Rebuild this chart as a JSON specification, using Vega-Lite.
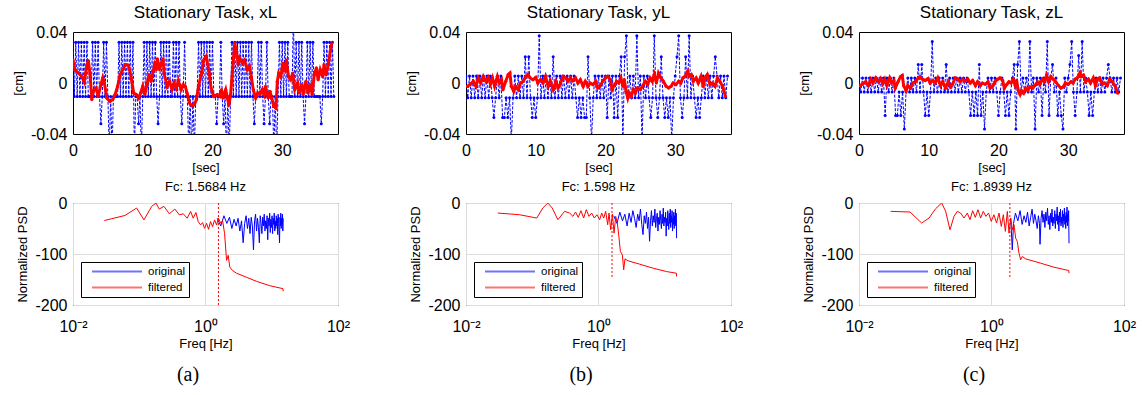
{
"$schema":"https://vega.github.io/schema/vega-lite/v6.json",
"padding":{"left":12,"top":3,"right":5,"bottom":3},
"config":{
 "font":"Liberation Sans",
 "view":{"stroke":"#000000","strokeWidth":1},
 "axis":{"domain":false,"grid":false,"ticks":false,"labelFont":"Liberation Sans","labelFontSize":16,"labelColor":"#000000","titleFont":"Liberation Sans","titleFontSize":13,"titleFontWeight":"normal","titleColor":"#000000","labelPadding":6,"labelFlush":false,"labelOverlap":false,"titlePadding":5},
 "title":{"font":"Liberation Sans","fontSize":17,"fontWeight":"normal","color":"#000000","offset":2},
 "legend":{"orient":"bottom-left","offset":8,"strokeColor":"#000000","fillColor":"#ffffff","padding":3,"symbolOffset":7,"symbolType":"stroke","symbolSize":2500,"clipHeight":13,"symbolStrokeWidth":2,"symbolOpacity":0.55,"labelFont":"Liberation Sans","labelFontSize":11.5,"labelColor":"#000000","labelOffset":5,"rowPadding":3}
},
"datasets":{
"bx":[{"t":0,"v":0.032},{"t":0.2,"v":-0.0105},{"t":0.4,"v":0.032},{"t":0.6,"v":-0.0105},{"t":0.8,"v":0.032},{"t":1.0,"v":-0.0105},{"t":1.2,"v":0.032},{"t":1.4,"v":-0.0105},{"t":1.6,"v":0.032},{"t":1.8,"v":-0.0105},{"t":2.0,"v":0.032},{"t":2.2,"v":-0.0105},{"t":2.4,"v":-0.0105},{"t":2.6,"v":-0.0105},{"t":2.8,"v":0.032},{"t":3.0,"v":-0.0105},{"t":3.2,"v":0.032},{"t":3.4,"v":-0.0105},{"t":3.6,"v":0.032},{"t":3.8,"v":-0.0105},{"t":4.0,"v":-0.032},{"t":4.2,"v":-0.0105},{"t":4.4,"v":0.032},{"t":4.6,"v":-0.0105},{"t":4.8,"v":0.032},{"t":5.0,"v":-0.0105},{"t":5.2,"v":-0.054},{"t":5.4,"v":-0.0105},{"t":5.6,"v":-0.054},{"t":5.8,"v":-0.0105},{"t":6.0,"v":-0.0105},{"t":6.2,"v":-0.0105},{"t":6.4,"v":-0.0105},{"t":6.6,"v":0.032},{"t":6.8,"v":-0.0105},{"t":7.0,"v":0.032},{"t":7.2,"v":-0.0105},{"t":7.4,"v":0.032},{"t":7.6,"v":-0.0105},{"t":7.8,"v":0.032},{"t":8.0,"v":-0.0105},{"t":8.2,"v":0.032},{"t":8.4,"v":-0.0105},{"t":8.6,"v":0.032},{"t":8.8,"v":-0.054},{"t":9.0,"v":-0.0105},{"t":9.2,"v":-0.0105},{"t":9.4,"v":-0.032},{"t":9.6,"v":-0.0105},{"t":9.8,"v":-0.054},{"t":10.0,"v":-0.0105},{"t":10.2,"v":0.032},{"t":10.4,"v":-0.0105},{"t":10.6,"v":0.032},{"t":10.8,"v":-0.0105},{"t":11.0,"v":0.032},{"t":11.2,"v":-0.0105},{"t":11.4,"v":0.032},{"t":11.6,"v":-0.0105},{"t":11.8,"v":0.032},{"t":12.0,"v":-0.0105},{"t":12.2,"v":-0.032},{"t":12.4,"v":-0.0105},{"t":12.6,"v":0.032},{"t":12.8,"v":-0.0105},{"t":13.0,"v":0.032},{"t":13.2,"v":-0.0105},{"t":13.4,"v":0.032},{"t":13.6,"v":-0.0105},{"t":13.8,"v":0.032},{"t":14.0,"v":-0.0105},{"t":14.2,"v":-0.0105},{"t":14.4,"v":0.032},{"t":14.6,"v":-0.0105},{"t":14.8,"v":0.032},{"t":15.0,"v":-0.0105},{"t":15.2,"v":0.032},{"t":15.4,"v":-0.0105},{"t":15.6,"v":-0.032},{"t":15.8,"v":-0.0105},{"t":16.0,"v":0.032},{"t":16.2,"v":-0.0105},{"t":16.4,"v":-0.0105},{"t":16.6,"v":-0.054},{"t":16.8,"v":-0.0105},{"t":17.0,"v":-0.054},{"t":17.2,"v":-0.0105},{"t":17.4,"v":-0.054},{"t":17.6,"v":-0.0105},{"t":17.8,"v":-0.0105},{"t":18.0,"v":0.032},{"t":18.2,"v":-0.0105},{"t":18.4,"v":0.032},{"t":18.6,"v":-0.0105},{"t":18.8,"v":0.032},{"t":19.0,"v":-0.0105},{"t":19.2,"v":0.032},{"t":19.4,"v":-0.0105},{"t":19.6,"v":0.032},{"t":19.8,"v":-0.0105},{"t":20.0,"v":0.032},{"t":20.2,"v":-0.0105},{"t":20.4,"v":-0.0105},{"t":20.6,"v":-0.032},{"t":20.8,"v":-0.0105},{"t":21.0,"v":-0.0105},{"t":21.2,"v":0.032},{"t":21.4,"v":-0.0105},{"t":21.6,"v":-0.032},{"t":21.8,"v":-0.0105},{"t":22.0,"v":-0.054},{"t":22.2,"v":-0.0105},{"t":22.4,"v":-0.054},{"t":22.6,"v":-0.0105},{"t":22.8,"v":0.032},{"t":23.0,"v":-0.0105},{"t":23.2,"v":0.032},{"t":23.4,"v":-0.0105},{"t":23.6,"v":0.032},{"t":23.8,"v":-0.0105},{"t":24.0,"v":0.032},{"t":24.2,"v":-0.0105},{"t":24.4,"v":0.032},{"t":24.6,"v":-0.0105},{"t":24.8,"v":0.032},{"t":25.0,"v":-0.0105},{"t":25.2,"v":0.032},{"t":25.4,"v":-0.0105},{"t":25.6,"v":0.032},{"t":25.8,"v":-0.0105},{"t":26.0,"v":-0.032},{"t":26.2,"v":-0.0105},{"t":26.4,"v":-0.0105},{"t":26.6,"v":0.032},{"t":26.8,"v":-0.0105},{"t":27.0,"v":0.032},{"t":27.2,"v":-0.0105},{"t":27.4,"v":-0.032},{"t":27.6,"v":-0.0105},{"t":27.8,"v":0.032},{"t":28.0,"v":-0.0105},{"t":28.2,"v":-0.032},{"t":28.4,"v":-0.0105},{"t":28.6,"v":-0.0105},{"t":28.8,"v":-0.054},{"t":29.0,"v":-0.0105},{"t":29.2,"v":-0.054},{"t":29.4,"v":-0.0105},{"t":29.6,"v":0.032},{"t":29.8,"v":-0.0105},{"t":30.0,"v":0.032},{"t":30.2,"v":-0.0105},{"t":30.4,"v":0.032},{"t":30.6,"v":-0.0105},{"t":30.8,"v":0.032},{"t":31.0,"v":-0.0105},{"t":31.2,"v":-0.0105},{"t":31.4,"v":-0.0105},{"t":31.6,"v":0.054},{"t":31.8,"v":-0.0105},{"t":32.0,"v":0.032},{"t":32.2,"v":-0.0105},{"t":32.4,"v":0.032},{"t":32.6,"v":-0.0105},{"t":32.8,"v":0.032},{"t":33.0,"v":-0.0105},{"t":33.2,"v":-0.032},{"t":33.4,"v":-0.0105},{"t":33.6,"v":0.032},{"t":33.8,"v":-0.0105},{"t":34.0,"v":0.032},{"t":34.2,"v":-0.0105},{"t":34.4,"v":0.032},{"t":34.6,"v":-0.0105},{"t":34.8,"v":-0.0105},{"t":35.0,"v":-0.0105},{"t":35.2,"v":-0.0105},{"t":35.4,"v":-0.0105},{"t":35.6,"v":-0.032},{"t":35.8,"v":-0.0105},{"t":36.0,"v":0.032},{"t":36.2,"v":-0.0105},{"t":36.4,"v":0.032},{"t":36.6,"v":-0.0105},{"t":36.8,"v":0.032},{"t":37.0,"v":-0.0105},{"t":37.2,"v":0.032},{"t":37.4,"v":-0.0105}],
"rx":[{"t":0,"v":0.018},{"t":0.29,"v":0.01},{"t":0.77,"v":0.008},{"t":1.25,"v":0.005},{"t":1.6,"v":0.001},{"t":2.0,"v":0.014},{"t":2.2,"v":0.0175},{"t":2.45,"v":0.0066},{"t":2.7,"v":-0.013},{"t":2.9,"v":-0.0065},{"t":3.3,"v":-0.004},{"t":3.6,"v":-0.0105},{"t":4.0,"v":-0.0013},{"t":4.27,"v":0.004},{"t":4.5,"v":0.0},{"t":4.85,"v":-0.0118},{"t":5.3,"v":-0.0144},{"t":5.7,"v":-0.013},{"t":6.04,"v":-0.009},{"t":6.4,"v":-0.0026},{"t":6.76,"v":0.0066},{"t":7.15,"v":0.0105},{"t":7.5,"v":0.0144},{"t":7.96,"v":0.0138},{"t":8.35,"v":0.004},{"t":8.7,"v":-0.0078},{"t":9.07,"v":-0.009},{"t":9.4,"v":-0.0118},{"t":9.7,"v":-0.0078},{"t":10.0,"v":-0.0026},{"t":10.3,"v":-0.009},{"t":10.6,"v":-0.0013},{"t":10.9,"v":0.0066},{"t":11.2,"v":0.0013},{"t":11.5,"v":0.0092},{"t":11.7,"v":0.0144},{"t":11.95,"v":0.0105},{"t":12.1,"v":0.019},{"t":12.4,"v":0.0105},{"t":12.6,"v":0.015},{"t":12.9,"v":0.019},{"t":13.1,"v":0.0066},{"t":13.5,"v":-0.0026},{"t":13.85,"v":0.0013},{"t":14.2,"v":-0.0052},{"t":14.5,"v":0.0},{"t":14.8,"v":-0.004},{"t":15.1,"v":0.0018},{"t":15.5,"v":-0.0052},{"t":15.8,"v":-0.0013},{"t":16.1,"v":-0.0026},{"t":16.35,"v":-0.0078},{"t":16.7,"v":-0.0157},{"t":17.1,"v":-0.018},{"t":17.4,"v":-0.017},{"t":17.7,"v":-0.013},{"t":18.0,"v":-0.0026},{"t":18.4,"v":0.0066},{"t":18.75,"v":0.018},{"t":19.1,"v":0.021},{"t":19.5,"v":0.0092},{"t":19.8,"v":-0.004},{"t":20.2,"v":-0.0105},{"t":20.7,"v":-0.009},{"t":21.05,"v":-0.0105},{"t":21.3,"v":-0.0052},{"t":21.5,"v":-0.0118},{"t":21.9,"v":-0.0052},{"t":22.1,"v":-0.0105},{"t":22.35,"v":-0.0175},{"t":22.6,"v":-0.009},{"t":22.9,"v":0.0118},{"t":23.2,"v":0.0314},{"t":23.45,"v":0.0236},{"t":23.7,"v":0.0144},{"t":23.9,"v":0.0196},{"t":24.3,"v":0.0157},{"t":24.6,"v":0.018},{"t":25.0,"v":0.0105},{"t":25.3,"v":0.013},{"t":25.6,"v":0.004},{"t":25.85,"v":-0.0052},{"t":26.2,"v":-0.0118},{"t":26.5,"v":-0.0078},{"t":26.8,"v":-0.009},{"t":27.15,"v":-0.0052},{"t":27.4,"v":-0.009},{"t":27.6,"v":-0.0026},{"t":28.0,"v":-0.0118},{"t":28.25,"v":-0.0065},{"t":28.5,"v":-0.0118},{"t":28.8,"v":-0.0183},{"t":29.1,"v":-0.0196},{"t":29.3,"v":0.0013},{"t":29.5,"v":0.0078},{"t":29.8,"v":0.005},{"t":30.1,"v":0.0157},{"t":30.4,"v":0.0092},{"t":30.6,"v":0.018},{"t":30.9,"v":0.005},{"t":31.2,"v":0.0026},{"t":31.5,"v":0.0078},{"t":31.8,"v":-0.0052},{"t":32.2,"v":0.0},{"t":32.4,"v":-0.0078},{"t":32.8,"v":-0.0013},{"t":33.0,"v":-0.009},{"t":33.4,"v":0.0013},{"t":33.7,"v":-0.0078},{"t":34.0,"v":-0.0013},{"t":34.3,"v":-0.009},{"t":34.6,"v":0.0066},{"t":34.9,"v":0.0118},{"t":35.15,"v":0.0026},{"t":35.45,"v":0.0105},{"t":35.8,"v":0.005},{"t":36.0,"v":0.0144},{"t":36.3,"v":0.0066},{"t":36.6,"v":0.0144},{"t":36.9,"v":0.025},{"t":37.1,"v":0.031}],
"by":[{"t":0,"v":0.0055},{"t":0.25,"v":-0.0115},{"t":0.5,"v":0.0055},{"t":0.75,"v":-0.0115},{"t":1.0,"v":0.0055},{"t":1.25,"v":-0.0115},{"t":1.5,"v":0.0055},{"t":1.75,"v":-0.0115},{"t":2.0,"v":0.0055},{"t":2.25,"v":-0.0115},{"t":2.5,"v":0.0055},{"t":2.75,"v":-0.0115},{"t":3.0,"v":0.0055},{"t":3.25,"v":-0.0115},{"t":3.5,"v":0.0055},{"t":3.75,"v":-0.0115},{"t":4.0,"v":-0.027},{"t":4.25,"v":-0.0115},{"t":4.5,"v":0.0055},{"t":4.75,"v":-0.0115},{"t":5.0,"v":0.0055},{"t":5.25,"v":-0.027},{"t":5.5,"v":-0.027},{"t":5.75,"v":-0.0115},{"t":6.0,"v":-0.027},{"t":6.25,"v":-0.0115},{"t":6.5,"v":-0.045},{"t":6.75,"v":-0.0115},{"t":7.0,"v":0.0055},{"t":7.25,"v":-0.0115},{"t":7.5,"v":0.0055},{"t":7.75,"v":-0.0115},{"t":8.0,"v":0.0055},{"t":8.25,"v":-0.0115},{"t":8.5,"v":0.0205},{"t":8.75,"v":-0.0115},{"t":9.0,"v":0.0205},{"t":9.25,"v":-0.0115},{"t":9.5,"v":-0.027},{"t":9.75,"v":-0.0115},{"t":10.0,"v":-0.027},{"t":10.25,"v":-0.0115},{"t":10.5,"v":0.037},{"t":10.75,"v":-0.0115},{"t":11.0,"v":0.0055},{"t":11.25,"v":-0.0115},{"t":11.5,"v":0.0055},{"t":11.75,"v":-0.0115},{"t":12.0,"v":0.0055},{"t":12.25,"v":-0.0115},{"t":12.5,"v":0.0205},{"t":12.75,"v":-0.0115},{"t":13.0,"v":0.0055},{"t":13.25,"v":-0.0115},{"t":13.5,"v":0.0055},{"t":13.75,"v":-0.0115},{"t":14.0,"v":0.0055},{"t":14.25,"v":-0.0115},{"t":14.5,"v":0.0055},{"t":14.75,"v":-0.0115},{"t":15.0,"v":0.0055},{"t":15.25,"v":-0.0115},{"t":15.5,"v":0.0055},{"t":15.75,"v":-0.0115},{"t":16.0,"v":-0.027},{"t":16.25,"v":-0.0115},{"t":16.5,"v":-0.027},{"t":16.75,"v":-0.0115},{"t":17.0,"v":-0.027},{"t":17.25,"v":-0.027},{"t":17.5,"v":0.0205},{"t":17.75,"v":-0.0115},{"t":18.0,"v":-0.045},{"t":18.25,"v":-0.0115},{"t":18.5,"v":0.0055},{"t":18.75,"v":-0.0115},{"t":19.0,"v":0.0055},{"t":19.25,"v":-0.0115},{"t":19.5,"v":0.0055},{"t":19.75,"v":-0.0115},{"t":20.0,"v":0.0055},{"t":20.25,"v":-0.027},{"t":20.5,"v":0.0055},{"t":20.75,"v":-0.0115},{"t":21.0,"v":0.0055},{"t":21.25,"v":-0.027},{"t":21.5,"v":0.0055},{"t":21.75,"v":-0.027},{"t":22.0,"v":0.0055},{"t":22.25,"v":0.0205},{"t":22.5,"v":-0.045},{"t":22.75,"v":0.0205},{"t":23.0,"v":0.037},{"t":23.25,"v":-0.0115},{"t":23.5,"v":0.0055},{"t":23.75,"v":-0.0115},{"t":24.0,"v":0.0055},{"t":24.25,"v":-0.0115},{"t":24.5,"v":0.037},{"t":24.75,"v":-0.0115},{"t":25.0,"v":0.0055},{"t":25.25,"v":-0.045},{"t":25.5,"v":0.0055},{"t":25.75,"v":-0.0115},{"t":26.0,"v":0.0055},{"t":26.25,"v":-0.0115},{"t":26.5,"v":-0.027},{"t":26.75,"v":-0.0115},{"t":27.0,"v":0.037},{"t":27.25,"v":-0.0115},{"t":27.5,"v":-0.027},{"t":27.75,"v":-0.0115},{"t":28.0,"v":0.0205},{"t":28.25,"v":-0.0115},{"t":28.5,"v":-0.027},{"t":28.75,"v":-0.0115},{"t":29.0,"v":-0.027},{"t":29.25,"v":-0.0115},{"t":29.5,"v":-0.045},{"t":29.75,"v":-0.0115},{"t":30.0,"v":0.0055},{"t":30.25,"v":0.0205},{"t":30.5,"v":0.037},{"t":30.75,"v":-0.0115},{"t":31.0,"v":-0.027},{"t":31.25,"v":-0.0115},{"t":31.5,"v":0.0205},{"t":31.75,"v":-0.0115},{"t":32.0,"v":0.037},{"t":32.25,"v":-0.0115},{"t":32.5,"v":0.0055},{"t":32.75,"v":-0.0115},{"t":33.0,"v":-0.027},{"t":33.25,"v":-0.0115},{"t":33.5,"v":-0.027},{"t":33.75,"v":-0.0115},{"t":34.0,"v":0.0055},{"t":34.25,"v":-0.0115},{"t":34.5,"v":0.0055},{"t":34.75,"v":-0.0115},{"t":35.0,"v":0.0055},{"t":35.25,"v":-0.0115},{"t":35.5,"v":0.0055},{"t":35.75,"v":0.0205},{"t":36.0,"v":0.0055},{"t":36.25,"v":-0.0115},{"t":36.5,"v":0.0055},{"t":36.75,"v":-0.0115},{"t":37.0,"v":0.0055},{"t":37.25,"v":-0.0115},{"t":37.5,"v":0.0055}],
"ry":[{"t":0.19,"v":-0.0026},{"t":0.57,"v":-0.0013},{"t":1.05,"v":0.0013},{"t":1.43,"v":-0.0026},{"t":1.76,"v":0.004},{"t":2.1,"v":0.0},{"t":2.48,"v":0.0052},{"t":2.86,"v":0.0013},{"t":3.2,"v":0.0044},{"t":3.5,"v":-0.0008},{"t":3.8,"v":0.004},{"t":4.1,"v":-0.0026},{"t":4.5,"v":0.0052},{"t":4.8,"v":0.0},{"t":5.1,"v":0.0026},{"t":5.3,"v":-0.0052},{"t":5.7,"v":0.0013},{"t":6.05,"v":0.0066},{"t":6.3,"v":0.0078},{"t":6.5,"v":-0.0026},{"t":6.85,"v":-0.0065},{"t":7.1,"v":-0.0026},{"t":7.5,"v":-0.0052},{"t":7.8,"v":0.0},{"t":8.2,"v":0.0013},{"t":8.6,"v":0.0052},{"t":8.9,"v":0.0066},{"t":9.2,"v":0.004},{"t":9.6,"v":0.0026},{"t":10.0,"v":0.0044},{"t":10.3,"v":0.0},{"t":10.7,"v":0.0026},{"t":11.05,"v":0.0},{"t":11.4,"v":0.0052},{"t":11.8,"v":-0.0026},{"t":12.1,"v":0.0013},{"t":12.5,"v":-0.0052},{"t":12.9,"v":0.0013},{"t":13.2,"v":-0.0039},{"t":13.5,"v":-0.0013},{"t":13.9,"v":0.0052},{"t":14.3,"v":0.004},{"t":14.6,"v":0.0013},{"t":14.95,"v":0.004},{"t":15.3,"v":0.0018},{"t":15.7,"v":0.004},{"t":16.05,"v":0.0},{"t":16.4,"v":0.0026},{"t":16.8,"v":-0.0026},{"t":17.1,"v":0.0013},{"t":17.5,"v":-0.0026},{"t":17.8,"v":0.0},{"t":18.2,"v":-0.0013},{"t":18.6,"v":0.0013},{"t":18.9,"v":-0.0039},{"t":19.2,"v":-0.0026},{"t":19.6,"v":0.0013},{"t":20.0,"v":0.004},{"t":20.3,"v":0.0052},{"t":20.7,"v":0.0026},{"t":20.95,"v":-0.0052},{"t":21.3,"v":-0.0013},{"t":21.6,"v":0.0013},{"t":21.9,"v":0.0},{"t":22.2,"v":0.004},{"t":22.5,"v":-0.0026},{"t":22.7,"v":0.0026},{"t":22.95,"v":-0.0065},{"t":23.2,"v":-0.0118},{"t":23.4,"v":-0.0078},{"t":23.7,"v":-0.0105},{"t":24.0,"v":-0.0052},{"t":24.3,"v":-0.0078},{"t":24.6,"v":-0.0039},{"t":25.0,"v":-0.0052},{"t":25.3,"v":-0.0026},{"t":25.7,"v":0.0013},{"t":26.05,"v":-0.0013},{"t":26.4,"v":0.004},{"t":26.7,"v":0.0013},{"t":27.0,"v":0.0066},{"t":27.3,"v":0.0},{"t":27.6,"v":0.0078},{"t":27.95,"v":0.004},{"t":28.3,"v":0.0013},{"t":28.7,"v":-0.0026},{"t":29.05,"v":-0.0039},{"t":29.4,"v":-0.0026},{"t":29.7,"v":0.0},{"t":30.1,"v":-0.0013},{"t":30.5,"v":0.0013},{"t":30.8,"v":0.0},{"t":31.1,"v":0.004},{"t":31.4,"v":0.0052},{"t":31.8,"v":0.0092},{"t":32.0,"v":0.0052},{"t":32.3,"v":0.0066},{"t":32.6,"v":0.0013},{"t":33.0,"v":0.004},{"t":33.3,"v":0.0},{"t":33.7,"v":0.0052},{"t":34.0,"v":-0.0026},{"t":34.3,"v":0.004},{"t":34.6,"v":0.0066},{"t":35.0,"v":-0.0013},{"t":35.3,"v":0.0},{"t":35.7,"v":-0.0026},{"t":36.05,"v":0.004},{"t":36.4,"v":0.0013},{"t":36.8,"v":-0.0026},{"t":37.2,"v":-0.0105}],
"bz":[{"t":0,"v":0.004},{"t":0.25,"v":-0.007},{"t":0.5,"v":0.004},{"t":0.75,"v":-0.007},{"t":1.0,"v":0.004},{"t":1.25,"v":-0.007},{"t":1.5,"v":0.004},{"t":1.75,"v":-0.007},{"t":2.0,"v":0.004},{"t":2.25,"v":-0.007},{"t":2.5,"v":0.004},{"t":2.75,"v":-0.007},{"t":3.0,"v":0.004},{"t":3.25,"v":-0.007},{"t":3.5,"v":0.004},{"t":3.75,"v":-0.0255},{"t":4.0,"v":0.004},{"t":4.25,"v":-0.007},{"t":4.5,"v":0.004},{"t":4.75,"v":-0.007},{"t":5.0,"v":0.004},{"t":5.25,"v":-0.0255},{"t":5.5,"v":-0.0255},{"t":5.75,"v":-0.007},{"t":6.0,"v":-0.0255},{"t":6.25,"v":-0.007},{"t":6.5,"v":-0.036},{"t":6.75,"v":-0.007},{"t":7.0,"v":0.004},{"t":7.25,"v":-0.007},{"t":7.5,"v":0.004},{"t":7.75,"v":-0.007},{"t":8.0,"v":0.004},{"t":8.25,"v":-0.007},{"t":8.5,"v":0.0145},{"t":8.75,"v":-0.007},{"t":9.0,"v":0.0145},{"t":9.25,"v":-0.007},{"t":9.5,"v":-0.0255},{"t":9.75,"v":-0.007},{"t":10.0,"v":-0.0255},{"t":10.25,"v":-0.007},{"t":10.5,"v":0.0325},{"t":10.75,"v":-0.007},{"t":11.0,"v":0.004},{"t":11.25,"v":-0.007},{"t":11.5,"v":0.004},{"t":11.75,"v":-0.007},{"t":12.0,"v":0.004},{"t":12.25,"v":-0.007},{"t":12.5,"v":0.0145},{"t":12.75,"v":-0.007},{"t":13.0,"v":0.004},{"t":13.25,"v":-0.007},{"t":13.5,"v":0.004},{"t":13.75,"v":-0.007},{"t":14.0,"v":0.004},{"t":14.25,"v":-0.007},{"t":14.5,"v":0.004},{"t":14.75,"v":-0.007},{"t":15.0,"v":0.004},{"t":15.25,"v":-0.007},{"t":15.5,"v":0.004},{"t":15.75,"v":-0.007},{"t":16.0,"v":-0.0255},{"t":16.25,"v":-0.007},{"t":16.5,"v":-0.0255},{"t":16.75,"v":-0.007},{"t":17.0,"v":-0.0255},{"t":17.25,"v":0.0145},{"t":17.5,"v":-0.0255},{"t":17.75,"v":-0.007},{"t":18.0,"v":-0.036},{"t":18.25,"v":-0.007},{"t":18.5,"v":0.004},{"t":18.75,"v":-0.007},{"t":19.0,"v":0.004},{"t":19.25,"v":-0.007},{"t":19.5,"v":0.004},{"t":19.75,"v":-0.007},{"t":20.0,"v":-0.0255},{"t":20.25,"v":-0.007},{"t":20.5,"v":0.004},{"t":20.75,"v":-0.007},{"t":21.0,"v":-0.0255},{"t":21.25,"v":-0.007},{"t":21.5,"v":-0.0255},{"t":21.75,"v":-0.007},{"t":22.0,"v":0.004},{"t":22.25,"v":0.0145},{"t":22.5,"v":-0.036},{"t":22.75,"v":0.0145},{"t":23.0,"v":0.0325},{"t":23.25,"v":-0.007},{"t":23.5,"v":0.004},{"t":23.75,"v":-0.007},{"t":24.0,"v":0.004},{"t":24.25,"v":-0.007},{"t":24.5,"v":0.0325},{"t":24.75,"v":-0.007},{"t":25.0,"v":0.004},{"t":25.25,"v":-0.036},{"t":25.5,"v":0.004},{"t":25.75,"v":-0.007},{"t":26.0,"v":0.004},{"t":26.25,"v":-0.0255},{"t":26.5,"v":0.004},{"t":26.75,"v":-0.007},{"t":27.0,"v":0.0325},{"t":27.25,"v":-0.0255},{"t":27.5,"v":0.004},{"t":27.75,"v":0.0145},{"t":28.0,"v":-0.007},{"t":28.25,"v":0.004},{"t":28.5,"v":-0.0255},{"t":28.75,"v":-0.007},{"t":29.0,"v":-0.0255},{"t":29.25,"v":-0.036},{"t":29.5,"v":0.004},{"t":29.75,"v":-0.007},{"t":30.0,"v":0.004},{"t":30.25,"v":0.0145},{"t":30.5,"v":0.0325},{"t":30.75,"v":-0.007},{"t":31.0,"v":-0.0255},{"t":31.25,"v":-0.007},{"t":31.5,"v":0.0215},{"t":31.75,"v":-0.007},{"t":32.0,"v":0.0325},{"t":32.25,"v":-0.007},{"t":32.5,"v":0.004},{"t":32.75,"v":-0.007},{"t":33.0,"v":-0.0255},{"t":33.25,"v":-0.007},{"t":33.5,"v":-0.0255},{"t":33.75,"v":-0.007},{"t":34.0,"v":0.004},{"t":34.25,"v":-0.007},{"t":34.5,"v":0.004},{"t":34.75,"v":-0.007},{"t":35.0,"v":0.004},{"t":35.25,"v":-0.007},{"t":35.5,"v":0.004},{"t":35.75,"v":0.0145},{"t":36.0,"v":0.004},{"t":36.25,"v":-0.007},{"t":36.5,"v":0.004},{"t":36.75,"v":-0.007},{"t":37.0,"v":0.004},{"t":37.25,"v":-0.007},{"t":37.5,"v":0.004}],
"rz":[{"t":0.1,"v":-0.002},{"t":0.5,"v":-0.001},{"t":0.95,"v":0.001},{"t":1.35,"v":-0.002},{"t":1.7,"v":0.003},{"t":2.0,"v":0.0},{"t":2.4,"v":0.004},{"t":2.8,"v":0.001},{"t":3.1,"v":0.0035},{"t":3.4,"v":-0.0006},{"t":3.7,"v":0.003},{"t":4.0,"v":-0.002},{"t":4.4,"v":0.004},{"t":4.7,"v":0.0},{"t":5.0,"v":0.002},{"t":5.2,"v":-0.004},{"t":5.6,"v":0.001},{"t":5.95,"v":0.005},{"t":6.2,"v":0.006},{"t":6.4,"v":-0.002},{"t":6.75,"v":-0.006},{"t":7.0,"v":-0.002},{"t":7.4,"v":-0.004},{"t":7.7,"v":0.0},{"t":8.1,"v":0.001},{"t":8.5,"v":0.004},{"t":8.8,"v":0.005},{"t":9.1,"v":0.003},{"t":9.5,"v":0.002},{"t":9.9,"v":0.0035},{"t":10.2,"v":0.0},{"t":10.6,"v":0.002},{"t":10.95,"v":0.0},{"t":11.3,"v":0.004},{"t":11.7,"v":-0.002},{"t":12.0,"v":0.001},{"t":12.4,"v":-0.004},{"t":12.8,"v":0.001},{"t":13.1,"v":-0.003},{"t":13.4,"v":-0.001},{"t":13.8,"v":0.004},{"t":14.2,"v":0.003},{"t":14.5,"v":0.001},{"t":14.85,"v":0.003},{"t":15.2,"v":0.0015},{"t":15.6,"v":0.003},{"t":15.95,"v":0.0},{"t":16.3,"v":0.002},{"t":16.7,"v":-0.002},{"t":17.0,"v":0.001},{"t":17.4,"v":-0.002},{"t":17.7,"v":0.0},{"t":18.1,"v":-0.001},{"t":18.5,"v":0.001},{"t":18.8,"v":-0.004},{"t":19.1,"v":-0.003},{"t":19.5,"v":0.001},{"t":19.9,"v":0.003},{"t":20.2,"v":0.004},{"t":20.6,"v":0.002},{"t":20.85,"v":-0.004},{"t":21.2,"v":-0.001},{"t":21.5,"v":0.001},{"t":21.8,"v":0.0},{"t":22.1,"v":0.003},{"t":22.4,"v":-0.002},{"t":22.6,"v":0.002},{"t":22.85,"v":-0.006},{"t":23.1,"v":-0.009},{"t":23.3,"v":-0.006},{"t":23.6,"v":-0.008},{"t":23.9,"v":-0.004},{"t":24.2,"v":-0.006},{"t":24.5,"v":-0.003},{"t":24.9,"v":-0.004},{"t":25.2,"v":-0.002},{"t":25.6,"v":0.001},{"t":25.95,"v":-0.001},{"t":26.3,"v":0.003},{"t":26.6,"v":0.001},{"t":26.9,"v":0.006},{"t":27.2,"v":0.001},{"t":27.5,"v":0.005},{"t":27.85,"v":0.003},{"t":28.2,"v":0.001},{"t":28.6,"v":-0.002},{"t":28.95,"v":-0.004},{"t":29.3,"v":-0.003},{"t":29.6,"v":0.0},{"t":30.0,"v":-0.001},{"t":30.4,"v":0.001},{"t":30.7,"v":0.0},{"t":31.0,"v":0.003},{"t":31.3,"v":0.004},{"t":31.7,"v":0.008},{"t":31.9,"v":0.005},{"t":32.2,"v":0.006},{"t":32.5,"v":0.001},{"t":32.9,"v":0.003},{"t":33.2,"v":0.0},{"t":33.6,"v":0.004},{"t":33.9,"v":-0.002},{"t":34.2,"v":0.003},{"t":34.5,"v":0.004},{"t":34.9,"v":-0.001},{"t":35.2,"v":0.0},{"t":35.6,"v":-0.002},{"t":35.95,"v":0.003},{"t":36.3,"v":0.001},{"t":36.7,"v":-0.002},{"t":37.1,"v":-0.008}],
"ox":[{"f":1.5,"v":-30},{"f":1.7,"v":-45},{"f":1.9,"v":-25},{"f":2.1,"v":-40},{"f":2.3,"v":-28},{"f":2.5,"v":-50},{"f":2.7,"v":-32},{"f":2.9,"v":-45},{"f":3.1,"v":-30},{"f":3.3,"v":-55},{"f":3.5,"v":-35},{"f":3.7,"v":-78},{"f":3.9,"v":-40},{"f":4.1,"v":-25},{"f":4.3,"v":-50},{"f":4.5,"v":-30},{"f":4.7,"v":-60},{"f":4.9,"v":-28},{"f":5.1,"v":-45},{"f":5.3,"v":-92},{"f":5.5,"v":-35},{"f":5.7,"v":-22},{"f":5.9,"v":-55},{"f":6.1,"v":-30},{"f":6.3,"v":-48},{"f":6.5,"v":-78},{"f":6.7,"v":-25},{"f":6.9,"v":-40},{"f":7.1,"v":-60},{"f":7.3,"v":-28},{"f":7.5,"v":-45},{"f":7.7,"v":-22},{"f":7.9,"v":-55},{"f":8.1,"v":-35},{"f":8.3,"v":-50},{"f":8.5,"v":-25},{"f":8.7,"v":-72},{"f":8.9,"v":-30},{"f":9.1,"v":-45},{"f":9.3,"v":-20},{"f":9.5,"v":-58},{"f":9.7,"v":-32},{"f":9.9,"v":-48},{"f":10.1,"v":-25},{"f":10.3,"v":-60},{"f":10.5,"v":-30},{"f":10.7,"v":-42},{"f":10.9,"v":-20},{"f":11.1,"v":-55},{"f":11.3,"v":-35},{"f":11.5,"v":-50},{"f":11.7,"v":-25},{"f":11.9,"v":-45},{"f":12.1,"v":-30},{"f":12.3,"v":-62},{"f":12.5,"v":-22},{"f":12.7,"v":-40},{"f":12.9,"v":-55},{"f":13.1,"v":-78},{"f":13.3,"v":-28},{"f":13.5,"v":-45},{"f":13.7,"v":-20},{"f":13.9,"v":-50},{"f":14.1,"v":-30},{"f":14.3,"v":-42},{"f":14.5,"v":-22},{"f":14.7,"v":-55},{"f":14.9,"v":-30}],
"fx":[{"f":0.0297,"v":-34.4},{"f":0.0608,"v":-24.5},{"f":0.0912,"v":-9.9},{"f":0.1178,"v":-33.1},{"f":0.154,"v":-6.6},{"f":0.1788,"v":0},{"f":0.2,"v":-11.9},{"f":0.236,"v":-6.6},{"f":0.284,"v":-21.2},{"f":0.345,"v":-11.9},{"f":0.402,"v":-23.2},{"f":0.461,"v":-21.2},{"f":0.53,"v":-29.8},{"f":0.596,"v":-16.5},{"f":0.653,"v":-29.8},{"f":0.716,"v":-18.5},{"f":0.776,"v":-36.4},{"f":0.843,"v":-43},{"f":0.903,"v":-38.4},{"f":0.968,"v":-49.6},{"f":1.038,"v":-39.7},{"f":1.112,"v":-51.6},{"f":1.19,"v":-36.4},{"f":1.28,"v":-46.3},{"f":1.37,"v":-33.1},{"f":1.47,"v":-43},{"f":1.57,"v":-29.8},{"f":1.69,"v":-39.7},{"f":1.81,"v":-34.4},{"f":1.94,"v":-59.6},{"f":2.08,"v":-112.5},{"f":2.2,"v":-102.6},{"f":2.33,"v":-125.8},{"f":2.56,"v":-132.4},{"f":2.94,"v":-137.7},{"f":4.16,"v":-145.6},{"f":5.89,"v":-153.6},{"f":9.35,"v":-162.2},{"f":14.8,"v":-168},{"f":14.9,"v":-173}],
"oy":[{"f":1.7,"v":-25},{"f":1.9,"v":-40},{"f":2.1,"v":-18},{"f":2.3,"v":-35},{"f":2.5,"v":-22},{"f":2.7,"v":-45},{"f":2.9,"v":-20},{"f":3.1,"v":-38},{"f":3.3,"v":-15},{"f":3.5,"v":-30},{"f":3.7,"v":-48},{"f":3.9,"v":-22},{"f":4.1,"v":-35},{"f":4.3,"v":-12},{"f":4.5,"v":-42},{"f":4.7,"v":-62},{"f":4.9,"v":-25},{"f":5.1,"v":-40},{"f":5.3,"v":-18},{"f":5.5,"v":-50},{"f":5.7,"v":-28},{"f":5.9,"v":-75},{"f":6.1,"v":-35},{"f":6.3,"v":-15},{"f":6.5,"v":-45},{"f":6.7,"v":-25},{"f":6.9,"v":-38},{"f":7.1,"v":-12},{"f":7.3,"v":-48},{"f":7.5,"v":-30},{"f":7.7,"v":-20},{"f":7.9,"v":-55},{"f":8.1,"v":-28},{"f":8.3,"v":-42},{"f":8.5,"v":-15},{"f":8.7,"v":-35},{"f":8.9,"v":-50},{"f":9.1,"v":-22},{"f":9.3,"v":-40},{"f":9.5,"v":-10},{"f":9.7,"v":-45},{"f":9.9,"v":-28},{"f":10.1,"v":-38},{"f":10.3,"v":-18},{"f":10.5,"v":-65},{"f":10.7,"v":-30},{"f":10.9,"v":-45},{"f":11.1,"v":-15},{"f":11.3,"v":-35},{"f":11.5,"v":-52},{"f":11.7,"v":-20},{"f":11.9,"v":-40},{"f":12.1,"v":-12},{"f":12.3,"v":-48},{"f":12.5,"v":-25},{"f":12.7,"v":-38},{"f":12.9,"v":-15},{"f":13.1,"v":-55},{"f":13.3,"v":-30},{"f":13.5,"v":-42},{"f":13.7,"v":-18},{"f":13.9,"v":-50},{"f":14.1,"v":-25},{"f":14.3,"v":-40},{"f":14.5,"v":-12},{"f":14.7,"v":-45},{"f":14.9,"v":-20},{"f":15.1,"v":-69}],
"fy":[{"f":0.0302,"v":-19.7},{"f":0.0641,"v":-23},{"f":0.117,"v":-29.5},{"f":0.1445,"v":-9.8},{"f":0.172,"v":0},{"f":0.2,"v":-9.8},{"f":0.2437,"v":-32.8},{"f":0.3076,"v":-16.4},{"f":0.366,"v":-19.7},{"f":0.411,"v":-26.2},{"f":0.451,"v":-17.7},{"f":0.495,"v":-28.2},{"f":0.543,"v":-15.1},{"f":0.597,"v":-29.5},{"f":0.654,"v":-13.1},{"f":0.718,"v":-26.2},{"f":0.788,"v":-19.7},{"f":0.865,"v":-29.5},{"f":0.948,"v":-23},{"f":1.042,"v":-32.8},{"f":1.117,"v":-19.7},{"f":1.197,"v":-29.5},{"f":1.283,"v":-16.4},{"f":1.376,"v":-42.6},{"f":1.442,"v":-19.7},{"f":1.528,"v":-52.5},{"f":1.62,"v":-21.6},{"f":1.717,"v":-59},{"f":1.819,"v":-26.2},{"f":1.928,"v":-39.3},{"f":2.043,"v":-68.9},{"f":2.14,"v":-95},{"f":2.29,"v":-101.6},{"f":2.4,"v":-131},{"f":2.51,"v":-109.5},{"f":2.79,"v":-113.4},{"f":4.2,"v":-120},{"f":6.68,"v":-127.9},{"f":10.6,"v":-134.4},{"f":15.0,"v":-137.7},{"f":15.1,"v":-144}],
"oz":[{"f":1.95,"v":-30},{"f":2.06,"v":-92},{"f":2.15,"v":-40},{"f":2.3,"v":-20},{"f":2.5,"v":-35},{"f":2.7,"v":-15},{"f":2.9,"v":-42},{"f":3.1,"v":-25},{"f":3.3,"v":-38},{"f":3.5,"v":-18},{"f":3.7,"v":-45},{"f":3.9,"v":-28},{"f":4.1,"v":-12},{"f":4.3,"v":-40},{"f":4.5,"v":-22},{"f":4.7,"v":-35},{"f":4.9,"v":-50},{"f":5.1,"v":-25},{"f":5.3,"v":-40},{"f":5.4,"v":-81},{"f":5.6,"v":-30},{"f":5.8,"v":-15},{"f":6.0,"v":-38},{"f":6.2,"v":-22},{"f":6.4,"v":-48},{"f":6.6,"v":-18},{"f":6.8,"v":-35},{"f":7.0,"v":-10},{"f":7.2,"v":-42},{"f":7.4,"v":-25},{"f":7.6,"v":-52},{"f":7.8,"v":-20},{"f":8.0,"v":-38},{"f":8.2,"v":-12},{"f":8.4,"v":-45},{"f":8.6,"v":-28},{"f":8.8,"v":-40},{"f":9.0,"v":-15},{"f":9.2,"v":-50},{"f":9.4,"v":-22},{"f":9.6,"v":-35},{"f":9.8,"v":-8},{"f":10.0,"v":-42},{"f":10.2,"v":-25},{"f":10.4,"v":-55},{"f":10.6,"v":-18},{"f":10.8,"v":-38},{"f":11.0,"v":-12},{"f":11.2,"v":-45},{"f":11.4,"v":-28},{"f":11.6,"v":-40},{"f":11.8,"v":-15},{"f":12.0,"v":-48},{"f":12.2,"v":-22},{"f":12.4,"v":-35},{"f":12.6,"v":-10},{"f":12.8,"v":-42},{"f":13.0,"v":-25},{"f":13.2,"v":-50},{"f":13.4,"v":-18},{"f":13.6,"v":-38},{"f":13.8,"v":-8},{"f":14.0,"v":-45},{"f":14.2,"v":-22},{"f":14.4,"v":-35},{"f":14.6,"v":-15},{"f":14.8,"v":-79}],
"fz":[{"f":0.0301,"v":-16.4},{"f":0.0589,"v":-17.7},{"f":0.0883,"v":-39.3},{"f":0.114,"v":-29.5},{"f":0.1436,"v":-11.1},{"f":0.177,"v":0},{"f":0.2033,"v":-16.4},{"f":0.2364,"v":-52.5},{"f":0.2716,"v":-26.2},{"f":0.305,"v":-16.4},{"f":0.3425,"v":-19.7},{"f":0.3846,"v":-29.5},{"f":0.4318,"v":-19.7},{"f":0.4735,"v":-32.8},{"f":0.5194,"v":-15.1},{"f":0.5696,"v":-28.2},{"f":0.6247,"v":-13.1},{"f":0.6851,"v":-29.5},{"f":0.7514,"v":-16.4},{"f":0.8241,"v":-26.2},{"f":0.9038,"v":-19.7},{"f":0.9912,"v":-36},{"f":1.087,"v":-23},{"f":1.192,"v":-39.3},{"f":1.297,"v":-19.7},{"f":1.406,"v":-45.9},{"f":1.509,"v":-23},{"f":1.618,"v":-55.7},{"f":1.735,"v":-16.4},{"f":1.838,"v":-59},{"f":1.947,"v":-29.5},{"f":2.063,"v":-52.5},{"f":2.186,"v":-42.6},{"f":2.315,"v":-68.9},{"f":2.453,"v":-75.4},{"f":2.6,"v":-98.4},{"f":2.754,"v":-111.5},{"f":2.918,"v":-104.9},{"f":3.28,"v":-109.5},{"f":5.52,"v":-118},{"f":8.77,"v":-125.9},{"f":14.7,"v":-132.5},{"f":14.8,"v":-137.7}]
},
"hconcat":[
{"title":{"text":"(a)","orient":"bottom","anchor":"middle","font":"Liberation Serif","fontSize":20,"offset":14,"dx":7},
 "spacing":5,
 "resolve":{"scale":{"color":"independent"},"legend":{"color":"independent"}},
 "vconcat":[
 {"width":265,"height":102,"title":{"text":"Stationary Task, xL"},
  "layer":[
   {"data":{"name":"bx"},"mark":{"type":"line","color":"#0000ff","strokeWidth":1,"strokeDash":[3,1.5],"clip":true},
    "encoding":{"x":{"field":"t","type":"quantitative","scale":{"domain":[0,38],"nice":false,"zero":false},"axis":{"title":"[sec]","values":[0,10,20,30],"labelPadding":8,"titlePadding":3}},
     "y":{"field":"v","type":"quantitative","scale":{"domain":[-0.04,0.04],"nice":false,"zero":false},"axis":{"title":"[cm]","values":[-0.04,-0.02,0,0.02,0.04],"labelExpr":"datum.value == 0 ? '0' : (datum.value < 0 ? '-' : '') + format(abs(datum.value), '.2f')"}}}},
   {"data":{"name":"bx"},"mark":{"type":"point","filled":true,"color":"#0000ff","size":9,"opacity":1,"clip":true},
    "encoding":{"x":{"field":"t","type":"quantitative"},"y":{"field":"v","type":"quantitative"}}},
   {"data":{"name":"rx"},"mark":{"type":"line","color":"#ff0000","strokeWidth":3,"clip":true},
    "encoding":{"x":{"field":"t","type":"quantitative"},"y":{"field":"v","type":"quantitative"}}},
   {"data":{"name":"rx"},"mark":{"type":"point","filled":true,"color":"#ff0000","size":10,"opacity":1,"clip":true},
    "encoding":{"x":{"field":"t","type":"quantitative"},"y":{"field":"v","type":"quantitative"}}}
  ]},
 {"width":265,"height":102,"title":{"text":"Fc: 1.5684 Hz","fontSize":13,"offset":1},
  "layer":[
   {"data":{"name":"ox"},"mark":{"type":"line","strokeWidth":1,"clip":true},
    "encoding":{"x":{"field":"f","type":"quantitative","scale":{"type":"log","domain":[0.01,100],"nice":false},"axis":{"title":"Freq [Hz]","values":[0.01,1,100],"grid":true,"gridColor":"#dcdcdc","labelPadding":13,"titlePadding":3,"labelExpr":"datum.value < 0.1 ? '10⁻²' : (datum.value < 10 ? '10⁰' : '10²')"}},
     "y":{"field":"v","type":"quantitative","scale":{"domain":[-200,0],"nice":false},"axis":{"title":"Normalized PSD","values":[-200,-100,0],"grid":true,"gridColor":"#dcdcdc","labelExpr":"datum.value == 0 ? '0' : '-' + format(abs(datum.value), 'd')"}},
     "color":{"datum":"original","type":"nominal","scale":{"domain":["original","filtered"],"range":["#0000ff","#ff0000"]},"legend":{"title":null}}}},
   {"data":{"name":"fx"},"mark":{"type":"line","strokeWidth":1,"clip":true},
    "encoding":{"x":{"field":"f","type":"quantitative"},"y":{"field":"v","type":"quantitative"},"color":{"datum":"filtered","type":"nominal"}}},
   {"data":{"values":[{"fc":1.5684,"a":0,"b":-200}]},"mark":{"type":"rule","color":"#ff0000","strokeDash":[2,2],"strokeWidth":1},
    "encoding":{"x":{"field":"fc","type":"quantitative"},"y":{"field":"a","type":"quantitative"},"y2":{"field":"b"}}}
  ]}
 ]},
{"title":{"text":"(b)","orient":"bottom","anchor":"middle","font":"Liberation Serif","fontSize":20,"offset":14,"dx":7},
 "spacing":5,
 "resolve":{"scale":{"color":"independent"},"legend":{"color":"independent"}},
 "vconcat":[
 {"width":265,"height":102,"title":{"text":"Stationary Task, yL"},
  "layer":[
   {"data":{"name":"by"},"mark":{"type":"line","color":"#0000ff","strokeWidth":1,"strokeDash":[3,1.5],"clip":true},
    "encoding":{"x":{"field":"t","type":"quantitative","scale":{"domain":[0,38],"nice":false,"zero":false},"axis":{"title":"[sec]","values":[0,10,20,30],"labelPadding":8,"titlePadding":3}},
     "y":{"field":"v","type":"quantitative","scale":{"domain":[-0.04,0.04],"nice":false,"zero":false},"axis":{"title":"[cm]","values":[-0.04,-0.02,0,0.02,0.04],"labelExpr":"datum.value == 0 ? '0' : (datum.value < 0 ? '-' : '') + format(abs(datum.value), '.2f')"}}}},
   {"data":{"name":"by"},"mark":{"type":"point","filled":true,"color":"#0000ff","size":9,"opacity":1,"clip":true},
    "encoding":{"x":{"field":"t","type":"quantitative"},"y":{"field":"v","type":"quantitative"}}},
   {"data":{"name":"ry"},"mark":{"type":"line","color":"#ff0000","strokeWidth":3,"clip":true},
    "encoding":{"x":{"field":"t","type":"quantitative"},"y":{"field":"v","type":"quantitative"}}},
   {"data":{"name":"ry"},"mark":{"type":"point","filled":true,"color":"#ff0000","size":10,"opacity":1,"clip":true},
    "encoding":{"x":{"field":"t","type":"quantitative"},"y":{"field":"v","type":"quantitative"}}}
  ]},
 {"width":265,"height":102,"title":{"text":"Fc: 1.598 Hz","fontSize":13,"offset":1},
  "layer":[
   {"data":{"name":"oy"},"mark":{"type":"line","strokeWidth":1,"clip":true},
    "encoding":{"x":{"field":"f","type":"quantitative","scale":{"type":"log","domain":[0.01,100],"nice":false},"axis":{"title":"Freq [Hz]","values":[0.01,1,100],"grid":true,"gridColor":"#dcdcdc","labelPadding":13,"titlePadding":3,"labelExpr":"datum.value < 0.1 ? '10⁻²' : (datum.value < 10 ? '10⁰' : '10²')"}},
     "y":{"field":"v","type":"quantitative","scale":{"domain":[-200,0],"nice":false},"axis":{"title":"Normalized PSD","values":[-200,-100,0],"grid":true,"gridColor":"#dcdcdc","labelExpr":"datum.value == 0 ? '0' : '-' + format(abs(datum.value), 'd')"}},
     "color":{"datum":"original","type":"nominal","scale":{"domain":["original","filtered"],"range":["#0000ff","#ff0000"]},"legend":{"title":null}}}},
   {"data":{"name":"fy"},"mark":{"type":"line","strokeWidth":1,"clip":true},
    "encoding":{"x":{"field":"f","type":"quantitative"},"y":{"field":"v","type":"quantitative"},"color":{"datum":"filtered","type":"nominal"}}},
   {"data":{"values":[{"fc":1.598,"a":0,"b":-147.5}]},"mark":{"type":"rule","color":"#ff0000","strokeDash":[2,2],"strokeWidth":1},
    "encoding":{"x":{"field":"fc","type":"quantitative"},"y":{"field":"a","type":"quantitative"},"y2":{"field":"b"}}}
  ]}
 ]},
{"title":{"text":"(c)","orient":"bottom","anchor":"middle","font":"Liberation Serif","fontSize":20,"offset":14,"dx":7},
 "spacing":5,
 "resolve":{"scale":{"color":"independent"},"legend":{"color":"independent"}},
 "vconcat":[
 {"width":265,"height":102,"title":{"text":"Stationary Task, zL"},
  "layer":[
   {"data":{"name":"bz"},"mark":{"type":"line","color":"#0000ff","strokeWidth":1,"strokeDash":[3,1.5],"clip":true},
    "encoding":{"x":{"field":"t","type":"quantitative","scale":{"domain":[0,38],"nice":false,"zero":false},"axis":{"title":"[sec]","values":[0,10,20,30],"labelPadding":8,"titlePadding":3}},
     "y":{"field":"v","type":"quantitative","scale":{"domain":[-0.04,0.04],"nice":false,"zero":false},"axis":{"title":"[cm]","values":[-0.04,-0.02,0,0.02,0.04],"labelExpr":"datum.value == 0 ? '0' : (datum.value < 0 ? '-' : '') + format(abs(datum.value), '.2f')"}}}},
   {"data":{"name":"bz"},"mark":{"type":"point","filled":true,"color":"#0000ff","size":9,"opacity":1,"clip":true},
    "encoding":{"x":{"field":"t","type":"quantitative"},"y":{"field":"v","type":"quantitative"}}},
   {"data":{"name":"rz"},"mark":{"type":"line","color":"#ff0000","strokeWidth":3,"clip":true},
    "encoding":{"x":{"field":"t","type":"quantitative"},"y":{"field":"v","type":"quantitative"}}},
   {"data":{"name":"rz"},"mark":{"type":"point","filled":true,"color":"#ff0000","size":10,"opacity":1,"clip":true},
    "encoding":{"x":{"field":"t","type":"quantitative"},"y":{"field":"v","type":"quantitative"}}}
  ]},
 {"width":265,"height":102,"title":{"text":"Fc: 1.8939 Hz","fontSize":13,"offset":1},
  "layer":[
   {"data":{"name":"oz"},"mark":{"type":"line","strokeWidth":1,"clip":true},
    "encoding":{"x":{"field":"f","type":"quantitative","scale":{"type":"log","domain":[0.01,100],"nice":false},"axis":{"title":"Freq [Hz]","values":[0.01,1,100],"grid":true,"gridColor":"#dcdcdc","labelPadding":13,"titlePadding":3,"labelExpr":"datum.value < 0.1 ? '10⁻²' : (datum.value < 10 ? '10⁰' : '10²')"}},
     "y":{"field":"v","type":"quantitative","scale":{"domain":[-200,0],"nice":false},"axis":{"title":"Normalized PSD","values":[-200,-100,0],"grid":true,"gridColor":"#dcdcdc","labelExpr":"datum.value == 0 ? '0' : '-' + format(abs(datum.value), 'd')"}},
     "color":{"datum":"original","type":"nominal","scale":{"domain":["original","filtered"],"range":["#0000ff","#ff0000"]},"legend":{"title":null}}}},
   {"data":{"name":"fz"},"mark":{"type":"line","strokeWidth":1,"clip":true},
    "encoding":{"x":{"field":"f","type":"quantitative"},"y":{"field":"v","type":"quantitative"},"color":{"datum":"filtered","type":"nominal"}}},
   {"data":{"values":[{"fc":1.8939,"a":0,"b":-147.5}]},"mark":{"type":"rule","color":"#ff0000","strokeDash":[2,2],"strokeWidth":1},
    "encoding":{"x":{"field":"fc","type":"quantitative"},"y":{"field":"a","type":"quantitative"},"y2":{"field":"b"}}}
  ]}
 ]}
],
"spacing":54,
"resolve":{"scale":{"color":"independent"},"legend":{"color":"independent"}}
}
